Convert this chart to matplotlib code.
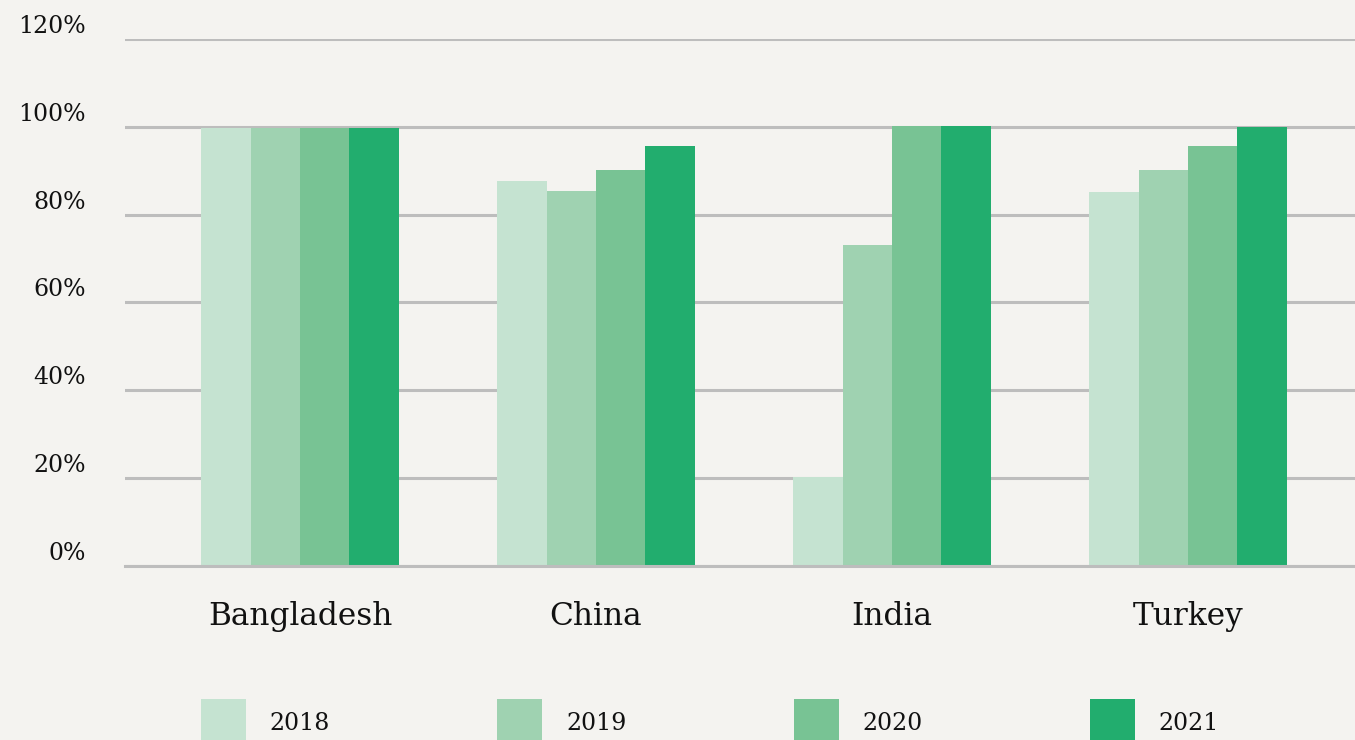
import numpy as np
import matplotlib
matplotlib.use("Agg")
import matplotlib.pyplot as plt
import matplotlib.transforms as mtransforms

countries = ["Bangladesh", "China", "India", "Turkey"]
years = ["2018", "2019", "2020", "2021"]
# share per country, one list per year (percent)
v2018 = [99.8, 87.7, 20.3, 85.2]
v2019 = [99.8, 85.5, 73.2, 90.2]
v2020 = [99.8, 90.2, 100.3, 95.7]
v2021 = [99.8, 95.7, 100.3, 100.0]
yticks = [0, 20, 40, 60, 80, 100, 120]
ytick_labels = ["0%", "20%", "40%", "60%", "80%", "100%", "120%"]

colors = ["#c5e3d1", "#9fd2b1", "#78c394", "#22ad6e"]
bg = "#f4f3f0"
grid_col = "#bdbdbd"
plt.rcParams["font.family"] = ["DejaVu Serif"]

fig = plt.figure(figsize=(13.55, 7.40), dpi=100, facecolor=bg)
W, H = 1355, 740
ax = fig.add_axes([125 / W, 1 - 566 / H, 1 - 125 / W, (566 - 39) / H])
ax.set_facecolor(bg)

x = np.arange(len(countries))
width = 0.167
series = [v2018, v2019, v2020, v2021]
for i, (vals, yr) in enumerate(zip(series, years)):
    ax.bar(x + (i - 1.5) * width, vals, width, color=colors[i], label=yr, zorder=3,
           linewidth=0)

# baseline drawn over the bar feet, like the source
ax.axhline(0, color=grid_col, linewidth=2.2, zorder=4, clip_on=False)

ax.set_xlim(-0.591, 3.564)
ax.set_ylim(0, 120)
ax.set_yticks(yticks)
ax.set_yticklabels(ytick_labels)
ax.set_xticks(x)
ax.set_xticklabels(countries)

ax.yaxis.grid(True, color=grid_col, linewidth=2.2, zorder=0)
ax.set_axisbelow(True)
for s in ax.spines.values():
    s.set_visible(False)
ax.tick_params(axis="both", length=0)
ax.tick_params(axis="y", labelsize=17, pad=28, labelcolor="#111111")
ax.tick_params(axis="x", labelsize=22.5, pad=25, labelcolor="#111111")

# y labels sit a little above their gridline
shift = mtransforms.ScaledTranslation(0, 15 / 100, fig.dpi_scale_trans)
for lab in ax.get_yticklabels():
    lab.set_transform(lab.get_transform() + shift)

fs = 17
fig.legend(loc="upper left", bbox_to_anchor=(201 / W, 1 - 699 / H), ncol=4,
           frameon=False, fontsize=fs, handlelength=1.9, handleheight=2.75,
           handletextpad=1.0, columnspacing=7.1, borderpad=0, borderaxespad=0,
           labelcolor="#111111")

fig.savefig("out.png", dpi=100, facecolor=bg)
